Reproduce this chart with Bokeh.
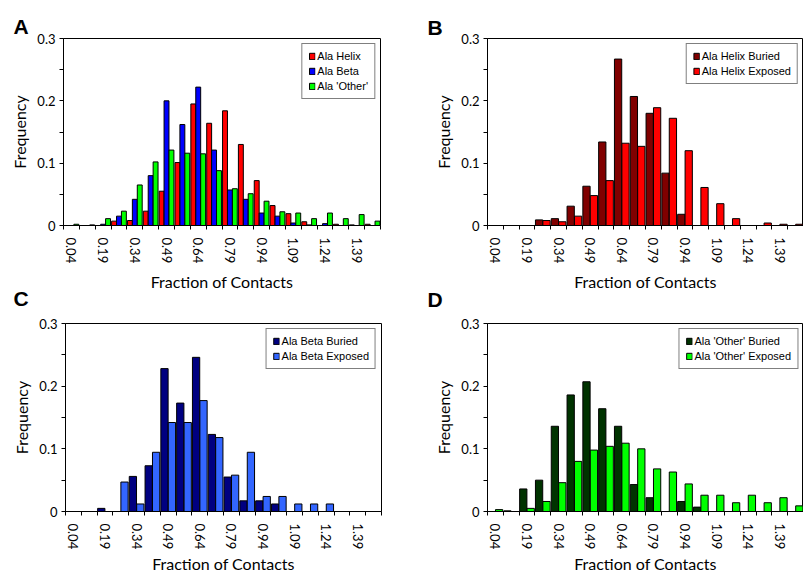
from bokeh.plotting import figure
from bokeh.models import Range1d, FixedTicker, Legend, LegendItem, ColumnDataSource
from bokeh.layouts import column, row
from bokeh.transform import dodge
from bokeh.embed import file_html
from bokeh.resources import INLINE

# ---------------- data ----------------
x_labels = ["0.04", "0.19", "0.34", "0.49", "0.64", "0.79", "0.94", "1.09", "1.24", "1.39"]
n_bins = 20
y_ticks = [0, 0.1, 0.2, 0.3]
y_tick_labels = ["0", "0.1", "0.2", "0.3"]

# Panel A
ala_helix = [0, 0, 0, 0.007, 0.008, 0.023, 0.055, 0.101, 0.195, 0.164,
             0.184, 0.130, 0.072, 0.032, 0.019, 0.006, 0, 0.002, 0.001, 0.002]
ala_beta = [0, 0, 0.002, 0.015, 0.042, 0.080, 0.200, 0.162, 0.222, 0.121,
            0.057, 0.042, 0.020, 0.015, 0.004, 0.001, 0.003, 0, 0, 0]
ala_other = [0.002, 0.001, 0.011, 0.023, 0.065, 0.102, 0.121, 0.116, 0.115, 0.088,
             0.059, 0.051, 0.039, 0.022, 0.020, 0.011, 0.020, 0.011, 0.0175, 0.007]

# Panel B
helix_buried = [0, 0, 0, 0.009, 0.011, 0.031, 0.063, 0.134, 0.267, 0.207,
                0.180, 0.084, 0.018, 0, 0, 0, 0, 0, 0, 0]
helix_exposed = [0, 0, 0, 0.008, 0.006, 0.015, 0.048, 0.072, 0.132, 0.127,
                 0.189, 0.172, 0.120, 0.061, 0.035, 0.011, 0, 0.004, 0.002, 0.002]

# Panel C
beta_buried = [0, 0, 0.005, 0, 0.056, 0.073, 0.228, 0.173, 0.246, 0.123,
               0.055, 0.017, 0.017, 0.012, 0, 0, 0, 0, 0, 0]
beta_exposed = [0, 0, 0, 0.047, 0.012, 0.0945, 0.142, 0.142, 0.177, 0.118,
                0.058, 0.0945, 0.024, 0.024, 0.012, 0.012, 0.012, 0, 0, 0]

# Panel D
other_buried = [0, 0.001, 0.036, 0.050, 0.136, 0.186, 0.207, 0.164, 0.136, 0.043,
                0.022, 0, 0.016, 0.007, 0, 0, 0, 0, 0, 0]
other_exposed = [0.003, 0, 0.005, 0.016, 0.046, 0.080, 0.098, 0.104, 0.109, 0.100,
                 0.068, 0.063, 0.044, 0.026, 0.026, 0.014, 0.026, 0.014, 0.022, 0.009]

TICK_FONT = "Lato"
LEG_FONT = "Liberation Sans"


def make_panel(letter, series, names, colors, width, height,
               bl, br, bt, bb, letter_offset, letter_standoff, xlab_standoff,
               top_margin=0):
    idx = list(range(n_bins))
    data = {"x": idx}
    for i, s in enumerate(series):
        data["s%d" % i] = s
    src = ColumnDataSource(data)

    p = figure(width=width, height=height, output_backend="svg",
               toolbar_location=None,
               x_range=Range1d(-0.5, n_bins - 0.5), y_range=Range1d(0, 0.3),
               min_border_left=bl, min_border_right=br,
               min_border_top=bt, min_border_bottom=bb)
    if top_margin:
        p.margin = (top_margin, 0, 0, 0)
        p.border_fill_color = None
    p.xgrid.visible = False
    p.ygrid.visible = False
    p.outline_line_color = "black"
    p.outline_line_width = 1
    p.outline_line_alpha = 1

    k = len(series)
    if k == 3:
        bw = 0.31
        offs = [-0.31, 0.0, 0.31]
    else:
        bw = 0.46
        offs = [-0.235, 0.235]

    items = []
    for i in range(k):
        r = p.vbar(x=dodge("x", offs[i], range=p.x_range), top="s%d" % i,
                   width=bw, bottom=0, source=src,
                   fill_color=colors[i], line_color="black", line_width=1)
        items.append(LegendItem(label=names[i], renderers=[r]))

    leg = Legend(items=items, location="top_right",
                 border_line_color="black", border_line_width=1,
                 background_fill_color="white", background_fill_alpha=1,
                 label_text_font=LEG_FONT, label_text_font_size="11px",
                 label_text_color="black",
                 glyph_width=7, glyph_height=8, label_height=12,
                 label_standoff=2, spacing=3, padding=6, margin=5)
    p.add_layout(leg)

    # x axis
    xa = p.xaxis[0]
    xa.ticker = FixedTicker(ticks=[2 * i for i in range(len(x_labels))],
                            minor_ticks=[i - 0.5 for i in range(n_bins + 1)])
    xa.major_label_overrides = {2 * i: lab for i, lab in enumerate(x_labels)}
    xa.major_label_orientation = "vertical"
    xa.major_tick_out = 0
    xa.major_tick_in = 0
    xa.minor_tick_out = 4
    xa.minor_tick_in = 0
    xa.minor_tick_line_color = "black"
    xa.axis_line_color = "black"
    xa.major_label_text_font = TICK_FONT
    xa.major_label_text_font_size = "13px"
    xa.major_label_text_color = "black"
    xa.major_label_standoff = 8
    xa.axis_label = "Fraction of Contacts"
    xa.axis_label_text_font = TICK_FONT
    xa.axis_label_text_font_size = "16px"
    xa.axis_label_text_font_style = "normal"
    xa.axis_label_text_color = "black"
    xa.axis_label_standoff = xlab_standoff

    # y axis
    ya = p.yaxis[0]
    ya.ticker = FixedTicker(ticks=y_ticks, minor_ticks=[0.05, 0.15, 0.25])
    ya.major_label_overrides = {t: lab for t, lab in zip(y_ticks, y_tick_labels)}
    ya.major_tick_out = 4
    ya.major_tick_in = 0
    ya.minor_tick_out = 4
    ya.minor_tick_in = 0
    ya.minor_tick_line_color = "black"
    ya.major_tick_line_color = "black"
    ya.axis_line_color = "black"
    ya.major_label_text_font = TICK_FONT
    ya.major_label_text_font_size = "13px"
    ya.major_label_text_color = "black"
    ya.major_label_standoff = 4
    ya.axis_label = "Frequency"
    ya.axis_label_text_font = TICK_FONT
    ya.axis_label_text_font_size = "16px"
    ya.axis_label_text_font_style = "normal"
    ya.axis_label_text_color = "black"
    ya.axis_label_standoff = 5

    # panel letter as the figure title
    p.title.text = letter
    p.title.align = "left"
    p.title.offset = letter_offset
    p.title.standoff = letter_standoff
    p.title.text_font = LEG_FONT
    p.title.text_font_size = "21px"
    p.title.text_font_style = "bold"
    p.title.text_color = "black"
    return p


pA = make_panel("A", [ala_helix, ala_beta, ala_other],
                ["Ala Helix", "Ala Beta", "Ala 'Other'"],
                ["#FF0000", "#0000FF", "#00FF00"],
                400, 297, 63, 20, 38, 70, -50, 2, 6)
pB = make_panel("B", [helix_buried, helix_exposed],
                ["Ala Helix Buried", "Ala Helix Exposed"],
                ["#800000", "#FF0000"],
                403, 297, 87, 0, 36, 72, -60, 0, 6)
pC = make_panel("C", [beta_buried, beta_exposed],
                ["Ala Beta Buried", "Ala Beta Exposed"],
                ["#000080", "#3366FF"],
                400, 311, 65, 19, 57, 65, -52, 27, 2, top_margin=-31)
pD = make_panel("D", [other_buried, other_exposed],
                ["Ala 'Other' Buried", "Ala 'Other' Exposed"],
                ["#003300", "#00FF00"],
                403, 311, 87, 0, 56, 66, -60, 25, 2, top_margin=-31)

layout = column(row(pA, pB), row(pC, pD))
open("out.html", "w").write(file_html(layout, INLINE))
